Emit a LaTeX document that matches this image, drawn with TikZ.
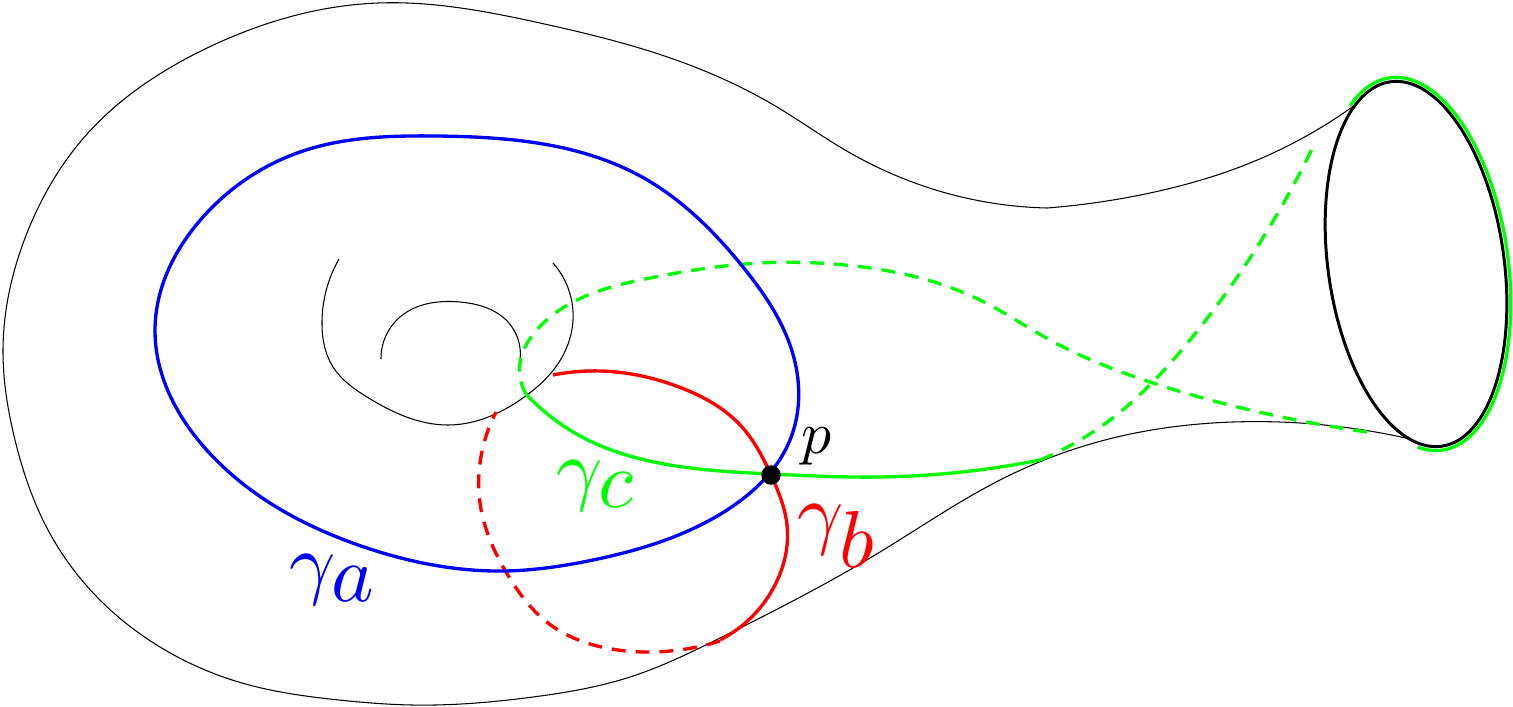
\documentclass[tikz,border=0pt]{standalone}
\usepackage{amsmath}
\usetikzlibrary{hobby}
\definecolor{gA}{RGB}{0,0,255}
\definecolor{gB}{RGB}{255,0,0}
\definecolor{gC}{RGB}{0,255,0}
\tikzset{
  thinline/.style={line width=0.6pt, black},
  curveline/.style={line width=1.9pt, line cap=butt},
  hidden/.style={line width=1.9pt, dash pattern=on 7.9pt off 5.7pt},
  rimline/.style={line width=1.7pt, black},
  biglabel/.style={inner sep=0pt, anchor=base west, scale=4.6},
  ptlabel/.style={inner sep=0pt, anchor=base west, scale=3.4},
}
\begin{document}
\begin{tikzpicture}[x=0.02cm,y=-0.02cm]
\useasboundingbox (0,0) rectangle (1513,706);

% outer surface outline
\draw[thinline] plot[hobby] coordinates {(1355,105) (1250,163) (1150,193) (1047,208)};
\draw[thinline] plot[hobby] coordinates {(1047,208) (946,193) (845,150) (777,107) (676,60) (540,23) (378,3) (203,50) (88,133) (27,233) (3,350) (15,440) (48,530) (97,597) (160,647) (242,683) (339,700) (412,705) (533,697) (630,677) (720,638) (880,552) (1000,480) (1117,437) (1233,422) (1410,439)};

% handle
\draw[thinline] plot[hobby] coordinates {(339,259) (322,325) (333,367) (367,397) (448,425) (527,395) (555,368) (573,320) (553,263)};
\draw[thinline] plot[hobby] coordinates {(381,359) (400,317) (460,302) (508,322) (520,360)};

% boundary circle and the part of gamma_c running along it
\coordinate (rimc) at (1416,264);
\begin{scope}[shift={(rimc)}, rotate=8]
  \draw[rimline] (0,0) ellipse [x radius=88, y radius=184];
  \draw[gC, curveline] (-118:92 and 188) arc[start angle=-118, end angle=105, x radius=92, y radius=188];
\end{scope}

% gamma_c
\draw[gC, curveline] plot[hobby] coordinates {(526,394) (582,437) (645,460) (771,474) (880,477) (1040,460)};
\draw[gC, hidden] plot[hobby] coordinates {(1040,460) (1110,420) (1190,340) (1240,273) (1314,145)};
\draw[gC, hidden] plot[hobby] coordinates {(1367,432) (1250,410) (1150,382) (1050,340) (980,300) (845,265) (760,263) (650,278) (577,300) (535,332) (520,363) (526,394)};

% gamma_b
\draw[gB, curveline] plot[hobby] coordinates {(553,375) (601,371) (679,387) (742,427) (771,475) (787,525) (775,585) (720,640)};
\draw[gB, hidden] plot[hobby] coordinates {(720,641) (645,652) (606,648) (548,623) (509,577) (480,503) (480,463) (496,412)};

% gamma_a
\draw[gA, curveline] plot[closed hobby] coordinates {(436,136) (642,177) (743,267) (794,358) (790,440) (727,510) (593,560) (504,571) (364,547) (204,447) (155,330) (203,217) (300,152)};

% point p
\node[circle, fill=black, inner sep=0pt, minimum size=0.39cm] (p) at (771,475) {};

% labels
\node[biglabel, text=gA] (la) at (288,589) {$\gamma_{\textstyle a}$};
\node[biglabel, text=gC] (lc) at (555,495) {$\gamma_{\textstyle c}$};
\node[biglabel, text=gB] (lb) at (796,539) {$\gamma_{\textstyle b}$};
\node[ptlabel] (lp) at (800,453) {$p$};
\end{tikzpicture}
\end{document}
